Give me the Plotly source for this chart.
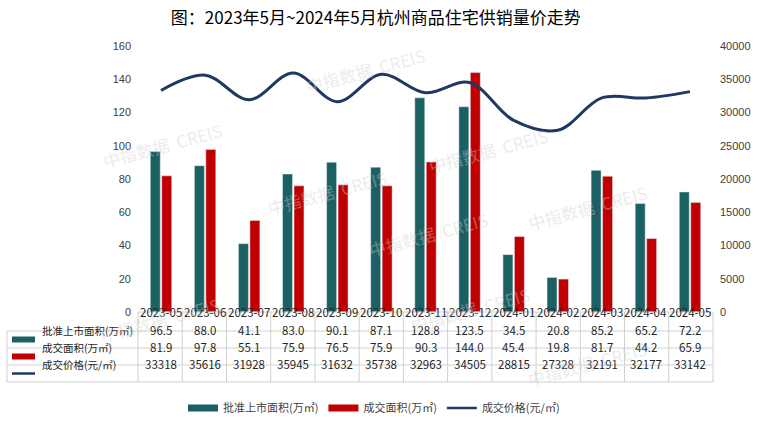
import plotly.graph_objects as go

months = ["2023-05", "2023-06", "2023-07", "2023-08", "2023-09", "2023-10", "2023-11",
          "2023-12", "2024-01", "2024-02", "2024-03", "2024-04", "2024-05"]
supply = [96.5, 88.0, 41.1, 83.0, 90.1, 87.1, 128.8, 123.5, 34.5, 20.8, 85.2, 65.2, 72.2]
sales = [81.9, 97.8, 55.1, 75.9, 76.5, 75.9, 90.3, 144.0, 45.4, 19.8, 81.7, 44.2, 65.9]
price = [33318, 35616, 31928, 35945, 31632, 35738, 32963, 34505, 28815, 27328, 32191, 32177, 33142]

names = ["批准上市面积(万㎡)", "成交面积(万㎡)", "成交价格(元/㎡)"]
TEAL = "#1b6163"
RED = "#c00000"
NAVY = "#1f3864"
CJK = "Noto Sans CJK SC"

W, H = 770, 426
L, R, T, B = 138, 57, 46, 114
PW, PH = W - L - R, H - T - B


def py(pix):  # pixel y -> paper y
    return (H - B - pix) / PH


def px(pix):  # pixel x -> paper x
    return (pix - L) / PW


fig = go.Figure()
fig.add_trace(go.Bar(x=months, y=supply, name=names[0], marker_color=TEAL,
                     showlegend=False, legendgroup="a"))
fig.add_trace(go.Bar(x=months, y=sales, name=names[1], marker_color=RED,
                     showlegend=False, legendgroup="b"))
fig.add_trace(go.Scatter(x=months, y=price, name=names[2], yaxis="y2", mode="lines",
                         line=dict(color=NAVY, width=3, shape="spline", smoothing=1.0),
                         showlegend=False, legendgroup="c"))
# legend entries
for nm, col, wd, g in [(names[0], TEAL, 7, "a"), (names[1], RED, 7, "b"), (names[2], NAVY, 2.5, "c")]:
    fig.add_trace(go.Scatter(x=[None], y=[None], mode="lines", name=nm,
                             line=dict(color=col, width=wd), legendgroup=g, yaxis="y2"))

shapes = []
grid = "#d0d0d0"
x_left = px(7)
rows_b = [331, 348, 365, 382]
for yb in rows_b:
    shapes.append(dict(type="line", xref="paper", yref="paper", x0=x_left, x1=1,
                       y0=py(yb), y1=py(yb), line=dict(color=grid, width=1), layer="below"))
shapes.append(dict(type="line", xref="paper", yref="paper", x0=0, x1=1,
                   y0=0, y1=0, line=dict(color=grid, width=1)))
for k in range(len(months) + 1):
    shapes.append(dict(type="line", xref="paper", yref="paper", x0=k / len(months), x1=k / len(months),
                       y0=0, y1=py(382), line=dict(color=grid, width=1)))
shapes.append(dict(type="line", xref="paper", yref="paper", x0=x_left, x1=x_left,
                   y0=py(331), y1=py(382), line=dict(color=grid, width=1)))
# table legend swatches
row_c = [339.5, 356.5, 373.5]
for yc, col, wd in zip(row_c, [TEAL, RED, NAVY], [6, 6, 2.5]):
    shapes.append(dict(type="line", xref="paper", yref="paper", x0=px(12), x1=px(35),
                       y0=py(yc), y1=py(yc), line=dict(color=col, width=wd)))

ann = []
NUMF = dict(family=CJK, size=11.5, color="#262626")
for m in months:
    ann.append(dict(x=m, xref="x", y=py(321.5), yref="paper", text=m, showarrow=False, font=NUMF))
for yc, vals, fmt in zip(row_c, [supply, sales, price], ["{:.1f}", "{:.1f}", "{:d}"]):
    for m, v in zip(months, vals):
        ann.append(dict(x=m, xref="x", y=py(yc), yref="paper", text=fmt.format(v), showarrow=False,
                        font=NUMF))
for yc, nm in zip(row_c, names):
    ann.append(dict(x=px(40), xref="paper", y=py(yc), yref="paper", text=nm, showarrow=False,
                    xanchor="left", font=dict(family=CJK, size=10.5, color="#262626")))

# faint watermarks
wm = "中指数据  CREIS"
for (wx, wy) in [(97, 145), (262, 193), (488, 150), (428, 265), (652, 207), (652, 394),
                 (300, 40), (95, 350), (470, 340)]:
    ann.append(dict(x=px(wx), xref="paper", y=py(wy), yref="paper", text=wm, showarrow=False,
                    textangle=-15, font=dict(family=CJK, size=17, color="rgba(205,205,205,0.4)")))

fig.update_layout(
    width=W, height=H,
    margin=dict(l=L, r=R, t=T, b=B, autoexpand=False),
    paper_bgcolor="white", plot_bgcolor="white",
    title=dict(text="图：2023年5月~2024年5月杭州商品住宅供销量价走势", x=0.488, xanchor="center",
               y=1 - 18 / H, yanchor="middle", yref="container",
               font=dict(family=CJK, size=17, color="#000000")),
    barmode="group", bargap=0.48, bargroupgap=0.13,
    xaxis=dict(type="category", showticklabels=False, showgrid=False, showline=False,
               zeroline=False, ticks=""),
    yaxis=dict(range=[0, 160], dtick=20, showgrid=False, showline=False, zeroline=False,
               ticks="", ticklabelstandoff=6,
               tickfont=dict(family="Liberation Sans", size=11, color="#404040")),
    yaxis2=dict(range=[0, 40000], dtick=5000, tickformat="d", overlaying="y", side="right",
                showgrid=False, showline=False, zeroline=False, ticks="", ticklabelstandoff=6,
                tickfont=dict(family="Liberation Sans", size=11, color="#404040")),
    legend=dict(orientation="h", x=px(374), xanchor="center", y=py(408), yanchor="middle",
                font=dict(family=CJK, size=11, color="#404040"), itemwidth=30,
                traceorder="normal"),
    shapes=shapes, annotations=ann,
)
fig.write_html("out.html", config={"displayModeBar": False},
               post_script="document.body.style.margin='0';document.body.style.padding='0';")
